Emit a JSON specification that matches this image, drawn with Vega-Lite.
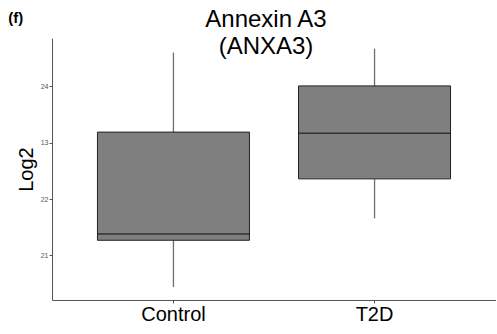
{
  "$schema": "https://vega.github.io/schema/vega-lite/v6.json",
  "background": "white",
  "padding": {"left": 8, "top": 8, "right": 0, "bottom": 0},
  "title": {"text": "(f)", "anchor": "start", "frame": "bounds", "fontSize": 15, "fontWeight": "bold", "font": "Liberation Sans", "color": "black", "dx": -8, "offset": -18},
  "config": {
    "font": "Liberation Sans",
    "view": {"stroke": null},
    "axis": {"grid": false, "domainColor": "#555555", "tickColor": "#555555", "domainWidth": 1, "tickWidth": 1}
  },
  "data": {
    "values": [
      {"group": "Control", "lower": 20.44, "q1": 21.27, "median": 21.38, "q3": 23.19, "upper": 24.6},
      {"group": "T2D", "lower": 21.66, "q1": 22.36, "median": 23.17, "q3": 24.01, "upper": 24.67}
    ]
  },
  "vconcat": [
    {
      "width": 444,
      "height": 262,
      "title": {"text": ["Annexin A3", "(ANXA3)"], "fontSize": 24, "fontWeight": "normal", "lineHeight": 27, "color": "black", "anchor": "middle", "offset": -21, "dx": -8},
      "encoding": {
        "x": {
          "field": "group", "type": "nominal", "sort": ["Control", "T2D"],
          "scale": {"paddingInner": 0.2, "paddingOuter": 0.204},
          "axis": {"title": null, "labelAngle": 0, "labelFontSize": 20, "labelColor": "black", "tickSize": 3, "labelPadding": 1}
        }
      },
      "layer": [
        {
          "mark": {"type": "rule", "color": "#6e6e6e", "strokeWidth": 1.3},
          "encoding": {
            "y": {"field": "lower", "type": "quantitative", "scale": {"domain": [20.21, 24.86], "nice": false, "zero": false},
              "axis": {"title": "Log2", "titleFontSize": 20, "titleFontWeight": "normal", "titleColor": "black", "values": [21, 22, 23, 24], "format": "d", "labelFontSize": 7, "labelColor": "#555555", "tickSize": 3, "labelPadding": 1, "titlePadding": 4, "labelExpr": "datum.value == 23 ? '13' : datum.label"}},
            "y2": {"field": "q1"}
          }
        },
        {
          "mark": {"type": "rule", "color": "#6e6e6e", "strokeWidth": 1.3},
          "encoding": {
            "y": {"field": "q3", "type": "quantitative"},
            "y2": {"field": "upper"}
          }
        },
        {
          "mark": {"type": "bar", "size": 152, "fill": "#7f7f7f", "stroke": "#222222", "strokeWidth": 1},
          "encoding": {
            "y": {"field": "q1", "type": "quantitative"},
            "y2": {"field": "q3"}
          }
        },
        {
          "mark": {"type": "tick", "size": 152, "thickness": 1.5, "color": "#111111"},
          "encoding": {
            "y": {"field": "median", "type": "quantitative"}
          }
        }
      ]
    }
  ]
}
